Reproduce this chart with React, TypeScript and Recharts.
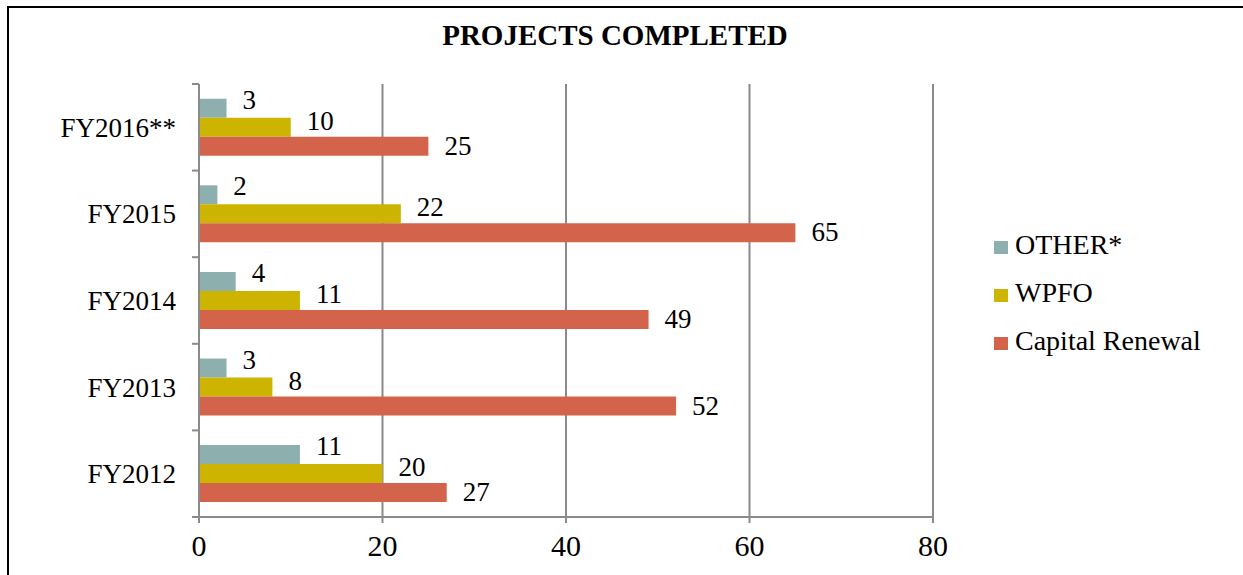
import { BarChart, Bar, XAxis, YAxis, CartesianGrid, Legend, LabelList } from "recharts";

const categories = ["FY2016**", "FY2015", "FY2014", "FY2013", "FY2012"];
const otherValues = [3, 2, 4, 3, 11];
const wpfoValues = [10, 22, 11, 8, 20];
const capitalRenewalValues = [25, 65, 49, 52, 27];
const xTicks = [0, 20, 40, 60, 80];

const series = [
  { key: "other", name: "OTHER*", color: "#8DAFAE", labelShift: -9 },
  { key: "wpfo", name: "WPFO", color: "#CDB400", labelShift: -7 },
  { key: "capital", name: "Capital Renewal", color: "#D3644B", labelShift: -1 },
];

const data = categories.map((name, i) => ({
  name,
  other: otherValues[i],
  wpfo: wpfoValues[i],
  capital: capitalRenewalValues[i],
}));

const W = 1243;
const H = 575;
const PLOT_LEFT = 199;
const PLOT_RIGHT = 933;
const PLOT_TOP = 84;
const PLOT_BOTTOM = 517;
const BAND = (PLOT_BOTTOM - PLOT_TOP) / categories.length;
const GREY = "#8a8a8a";
const FONT = "'Liberation Serif', 'Times New Roman', serif";

const CategoryTick = (props: any) => {
  const { x, y, payload, index } = props;
  const half = BAND / 2;
  return (
    <g>
      <line x1={PLOT_LEFT - 7} x2={PLOT_LEFT} y1={y - half} y2={y - half} stroke={GREY} strokeWidth={2} />
      {index === categories.length - 1 && (
        <line x1={PLOT_LEFT - 7} x2={PLOT_LEFT} y1={y + half} y2={y + half} stroke={GREY} strokeWidth={2} />
      )}
      <text x={x} y={y} dy="0.355em" textAnchor="end" fill="#000" fontSize={27} fontFamily={FONT}>
        {payload.value}
      </text>
    </g>
  );
};

const makeValueLabel = (shift: number) => (props: any) => {
  const vb = props.viewBox ?? {};
  const x = Number(props.x ?? vb.x);
  const y = Number(props.y ?? vb.y);
  const w = Number(props.width ?? vb.width);
  const h = Number(props.height ?? vb.height);
  return (
    <text x={x + w + 16} y={y + h / 2 + shift} dy="0.355em" fill="#000" fontSize={27} fontFamily={FONT}>
      {props.value}
    </text>
  );
};

const LegendBox = () => (
  <div style={{ fontFamily: FONT, fontSize: 28, color: "#000" }}>
    {series.map((s) => (
      <div key={s.key} style={{ height: 48, lineHeight: "48px", whiteSpace: "nowrap" }}>
        <span
          style={{
            display: "inline-block",
            width: 14,
            height: 13,
            background: s.color,
            marginRight: 7,
            verticalAlign: "baseline",
          }}
        />
        {s.name}
      </div>
    ))}
  </div>
);

export default function App() {
  return (
    <div style={{ position: "fixed", left: 0, top: 0, width: W, height: H, overflow: "hidden", background: "#fff" }}>
      <div
        style={{
          position: "absolute",
          left: 7,
          top: 6,
          width: 1300,
          height: 700,
          border: "2px solid #000",
        }}
      />
      <div
        style={{
          position: "absolute",
          left: 0,
          top: 19,
          width: 1230,
          textAlign: "center",
          fontFamily: FONT,
          fontWeight: "bold",
          fontSize: 29,
          lineHeight: "32px",
          color: "#000",
        }}
      >
        PROJECTS COMPLETED
      </div>
      <div style={{ position: "absolute", left: 0, top: 0 }}>
        <BarChart
          width={W}
          height={H}
          data={data}
          layout="vertical"
          margin={{ top: PLOT_TOP, right: W - PLOT_RIGHT, bottom: 0, left: 0 }}
          barCategoryGap="17%"
          barGap={0}
        >
          <CartesianGrid horizontal={false} stroke={GREY} strokeWidth={2} />
          <XAxis
            type="number"
            domain={[0, 80]}
            ticks={xTicks}
            height={H - PLOT_BOTTOM}
            axisLine={{ stroke: GREY, strokeWidth: 2 }}
            tickLine={{ stroke: GREY, strokeWidth: 2 }}
            tickSize={6}
            tickMargin={12}
            tick={{ fill: "#000", fontSize: 30, fontFamily: FONT }}
            interval={0}
          />
          <YAxis
            type="category"
            dataKey="name"
            width={PLOT_LEFT}
            axisLine={{ stroke: GREY, strokeWidth: 2 }}
            tickLine={false}
            tickSize={7}
            tickMargin={16}
            tick={<CategoryTick />}
            interval={0}
          />
          <Legend
            layout="vertical"
            align="center"
            verticalAlign="middle"
            wrapperStyle={{ left: 994, top: 221, width: 240 }}
            content={() => <LegendBox />}
          />
          {series.map((s) => (
            <Bar key={s.key} dataKey={s.key} name={s.name} fill={s.color} isAnimationActive={false}>
              <LabelList dataKey={s.key} content={makeValueLabel(s.labelShift)} />
            </Bar>
          ))}
        </BarChart>
      </div>
    </div>
  );
}
